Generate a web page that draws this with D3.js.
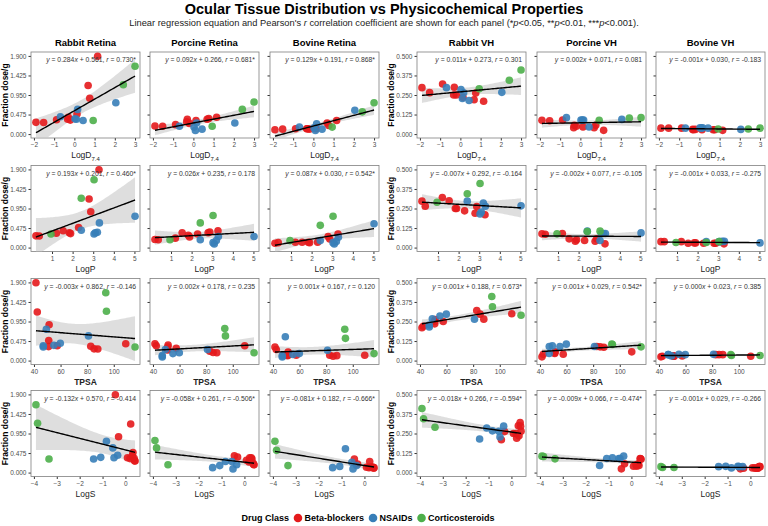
<!DOCTYPE html>
<html>
<head>
<meta charset="utf-8">
<script src="https://cdnjs.cloudflare.com/ajax/libs/d3/7.8.5/d3.min.js"></script>
<style>
  body { margin: 0; background: #fff; }
  text { font-family: "Liberation Sans", Arial, sans-serif; }
</style>
</head>
<body>
<div id="chart"></div>
<script>
// Drug order: 10 beta-blockers, 6 NSAIDs, 3 corticosteroids
var drugClass = ["Beta-blockers", "Beta-blockers", "Beta-blockers", "Beta-blockers", "Beta-blockers",
  "Beta-blockers", "Beta-blockers", "Beta-blockers", "Beta-blockers", "Beta-blockers",
  "NSAIDs", "NSAIDs", "NSAIDs", "NSAIDs", "NSAIDs", "NSAIDs",
  "Corticosteroids", "Corticosteroids", "Corticosteroids"];

// physicochemical properties
var logD = [1.15, 0.68, 0.76, 0.13, -0.30, -0.33, -0.88, -1.52, -0.20, -1.90, 2.05, 0.16, -0.69, 0.03, 0.10, 0.43, 3.00, 2.42, 0.93];
var logP = [3.28, 2.80, 2.88, 2.29, 1.54, 1.84, 1.21, 0.38, 1.90, 0.22, 5.03, 3.30, 2.42, 3.20, 3.10, 3.04, 3.04, 2.42, 0.95];
var tpsa = [41.5, 42.5, 51.4, 51.1, 109, 57.5, 82.7, 88, 51, 85.2, 49.3, 81, 59.8, 55, 47, 47, 94, 94.5, 116];
var logS = [-0.44, 0.23, -0.30, 0.33, 0.30, 0.09, 0.38, 0.42, 0.20, 0.40, -0.83, -0.55, -0.34, -1.08, -0.50, -1.39, -3.91, -3.84, -3.34];

// tissue levels (fraction dose/g)
var rabbitRetina = [1.89, 1.18, 0.87, 0.49, 0.41, 0.36, 0.35, 0.28, 0.34, 0.285, 0.76, 0.60, 0.42, 0.37, 0.36, 0.33, 1.65, 1.20, 0.33];
var porcineRetina = [0.41, 0.36, 0.38, 0.33, 0.36, 0.30, 0.23, 0.19, 0.26, 0.195, 0.27, 0.27, 0.19, 0.17, 0.09, 0.12, 0.78, 0.60, 0.19];
var bovineRetina = [0.33, 0.27, 0.21, 0.13, 0.13, 0.13, 0.13, 0.12, 0.12, 0.107, 0.58, 0.25, 0.17, 0.15, 0.09, 0.12, 0.76, 0.54, 0.17];
var rabbitVH = [0.21, 0.22, 0.262, 0.235, 0.30, 0.25, 0.32, 0.265, 0.25, 0.297, 0.267, 0.264, 0.297, 0.285, 0.228, 0.215, 0.41, 0.344, 0.29];
var porcineVH = [0.024, 0.041, 0.056, 0.045, 0.056, 0.041, 0.09, 0.085, 0.05, 0.088, 0.094, 0.09, 0.105, 0.09, 0.09, 0.045, 0.105, 0.103, 0.088];
var bovineVH = [0.024, 0.028, 0.028, 0.028, 0.028, 0.03, 0.038, 0.038, 0.03, 0.038, 0.03, 0.04, 0.038, 0.04, 0.038, 0.038, 0.038, 0.033, 0.033];

var tissueNames = ["Rabbit Retina", "Porcine Retina", "Bovine Retina", "Rabbit VH", "Porcine VH", "Bovine VH"];
var tissueData = [rabbitRetina, porcineRetina, bovineRetina, rabbitVH, porcineVH, bovineVH];
var propData = [logD, logP, tpsa, logS];
var propTicks = [[-2, -1, 0, 1, 2, 3], [1, 2, 3, 4, 5], [40, 60, 80, 100], [-4, -3, -2, -1, 0]];
var retinaTicks = [0, 0.475, 0.95, 1.425, 1.9];
var vhTicks = [0, 0.125, 0.25, 0.375, 0.5];

// regression labels as printed in each panel
var eqSlope = [["0.284", "0.092", "0.129", "0.011", "0.002", "-0.001"],
  ["0.193", "0.026", "0.087", "-0.007", "-0.002", "-0.001"],
  ["-0.003", "0.002", "0.001", "0.001", "0.001", "0.000"],
  ["-0.132", "-0.058", "-0.081", "-0.018", "-0.009", "-0.001"]];
var eqIntercept = [["0.561", "0.266", "0.191", "0.273", "0.071", "0.030"],
  ["0.201", "0.235", "0.030", "0.292", "0.077", "0.033"],
  ["0.862", "0.178", "0.167", "0.188", "0.029", "0.023"],
  ["0.570", "0.261", "0.182", "0.266", "0.066", "0.029"]];
var eqR = [["0.730*", "0.681*", "0.868*", "0.301", "0.081", "-0.183"],
  ["0.460*", "0.178", "0.542*", "-0.164", "-0.105", "-0.275"],
  ["-0.146", "0.235", "0.120", "0.673*", "0.542*", "0.385"],
  ["-0.414", "-0.506*", "-0.666*", "-0.594*", "-0.474*", "-0.266"]];

var classColor = d3.scaleOrdinal()
  .domain(["Beta-blockers", "NSAIDs", "Corticosteroids"])
  .range(["#E41A1C", "#377EB8", "#4DAF4A"]);

// layout
var svgWidth = 768;
var svgHeight = 526;
var colLeft = [31, 150, 270, 417, 537, 656];
var rowTop = [52, 165.5, 278.5, 390.5];
var panelW = 109;
var panelH = 86;

var svg = d3.select("#chart")
  .append("svg")
  .attr("width", svgWidth)
  .attr("height", svgHeight);

// title + subtitle
svg.append("text")
  .attr("x", 384)
  .attr("y", 14)
  .attr("text-anchor", "middle")
  .style("font-size", "14.5px")
  .style("font-weight", "bold")
  .text("Ocular Tissue Distribution vs Physicochemical Properties");

var sub = svg.append("text")
  .attr("x", 384)
  .attr("y", 25.5)
  .attr("text-anchor", "middle")
  .style("font-size", "9.3px")
  .attr("fill", "#222");
sub.append("tspan").text("Linear regression equation and Pearson's ");
sub.append("tspan").style("font-style", "italic").text("r");
sub.append("tspan").text(" correlation coefficient are shown for each panel (*");
sub.append("tspan").style("font-style", "italic").text("p");
sub.append("tspan").text("<0.05, **");
sub.append("tspan").style("font-style", "italic").text("p");
sub.append("tspan").text("<0.01, ***");
sub.append("tspan").style("font-style", "italic").text("p");
sub.append("tspan").text("<0.001).");

// simple least squares fit with 95% band
function fitLine(xs, ys) {
  var n = xs.length;
  var mx = d3.mean(xs), my = d3.mean(ys);
  var sxx = d3.sum(xs, d => (d - mx) * (d - mx));
  var sxy = d3.sum(xs.map((d, i) => (d - mx) * (ys[i] - my)));
  var b = sxy / sxx;
  var a = my - b * mx;
  var sse = d3.sum(xs.map((d, i) => Math.pow(ys[i] - (a + b * d), 2)));
  var s = Math.sqrt(sse / (n - 2));
  var t = 2.11;
  var lo = d3.min(xs), hi = d3.max(xs);
  var pts = d3.range(0, 61).map(function (k) {
    var x = lo + (hi - lo) * k / 60;
    var yhat = a + b * x;
    var se = s * Math.sqrt(1 / n + (x - mx) * (x - mx) / sxx);
    return { x: x, y: yhat, lo: yhat - t * se, hi: yhat + t * se };
  });
  return pts;
}

for (var r = 0; r < 4; r++) {
  for (var c = 0; c < 6; c++) {
    drawPanel(r, c);
  }
}

function drawPanel(r, c) {
  var xs = propData[r];
  var ys = tissueData[c];
  var isVH = c >= 3;

  var ext = d3.extent(xs);
  var pad = (ext[1] - ext[0]) * 0.05;
  var x = d3.scaleLinear().domain([ext[0] - pad, ext[1] + pad]).range([0, panelW]);
  var yMax = isVH ? 0.5 : 1.9;
  var y = d3.scaleLinear().domain([-0.05 * yMax, 1.05 * yMax]).range([panelH, 0]);

  var g = svg.append("g")
    .attr("transform", `translate(${colLeft[c]}, ${rowTop[r]})`);

  var clipId = "clip" + r + "_" + c;
  g.append("clipPath").attr("id", clipId)
    .append("rect").attr("width", panelW).attr("height", panelH);

  // axes
  var xAxis = g.append("g")
    .attr("transform", `translate(0, ${panelH})`)
    .call(d3.axisBottom(x).tickValues(propTicks[r]).tickSize(2.5).tickPadding(2).tickFormat(d3.format("d")));
  var yAxis = g.append("g")
    .call(d3.axisLeft(y).tickValues(isVH ? vhTicks : retinaTicks).tickSize(2.5).tickPadding(2)
      .tickFormat(c === 0 || c === 3 ? d3.format(".3f") : ""));
  [xAxis, yAxis].forEach(function (ax) {
    ax.select(".domain").remove();
    ax.selectAll("line").attr("stroke", "#333");
    ax.selectAll("text").style("font-size", "6.5px").attr("fill", "#4d4d4d")
      .style("font-family", "'Liberation Sans', Arial, sans-serif");
  });

  g.append("rect")
    .attr("width", panelW)
    .attr("height", panelH)
    .attr("fill", "none")
    .attr("stroke", "#7f7f7f")
    .attr("stroke-width", 0.8);

  // regression band + line
  var fit = fitLine(xs, ys);
  var plot = g.append("g").attr("clip-path", `url(#${clipId})`);
  plot.append("path")
    .datum(fit)
    .attr("fill", "#c8c8c8")
    .attr("fill-opacity", 0.6)
    .attr("d", d3.area().x(d => x(d.x)).y0(d => y(d.lo)).y1(d => y(d.hi)));

  plot.selectAll("circle")
    .data(xs.map((d, i) => ({ x: d, y: ys[i], cls: drugClass[i] })))
    .enter()
    .append("circle")
    .attr("cx", d => x(d.x))
    .attr("cy", d => y(d.y))
    .attr("r", 3.8)
    .attr("fill", d => classColor(d.cls))
    .attr("fill-opacity", 0.9);

  plot.append("path")
    .datum(fit)
    .attr("fill", "none")
    .attr("stroke", "#000")
    .attr("stroke-width", 1.4)
    .attr("d", d3.line().x(d => x(d.x)).y(d => y(d.y)));

  // equation label
  var eq = g.append("text")
    .attr("x", panelW - 4)
    .attr("y", 10)
    .attr("text-anchor", "end")
    .style("font-size", "6.8px")
    .attr("fill", "#333");
  eq.append("tspan").style("font-style", "italic").text("y");
  eq.append("tspan").text(" = " + eqSlope[r][c]);
  eq.append("tspan").style("font-style", "italic").text("x");
  eq.append("tspan").text(" + " + eqIntercept[r][c] + ", ");
  eq.append("tspan").style("font-style", "italic").text("r");
  eq.append("tspan").text(" = " + eqR[r][c]);

  // x axis title
  var xt = g.append("text")
    .attr("x", panelW / 2)
    .attr("y", panelH + 20)
    .attr("text-anchor", "middle")
    .style("font-size", "8.5px")
    .attr("fill", "#222");
  if (r === 0) {
    xt.append("tspan").text("LogD");
    xt.append("tspan").attr("dy", 2.5).style("font-size", "6px").text("7.4");
  } else if (r === 1) {
    xt.text("LogP");
  } else if (r === 2) {
    xt.style("font-weight", "bold").text("TPSA");
  } else {
    xt.text("LogS");
  }

  // panel titles on top row
  if (r === 0) {
    g.append("text")
      .attr("x", panelW / 2)
      .attr("y", -6.5)
      .attr("text-anchor", "middle")
      .style("font-size", "9.5px")
      .style("font-weight", "bold")
      .text(tissueNames[c]);
  }

  // y axis title
  if (c === 0 || c === 3) {
    g.append("text")
      .attr("transform", `translate(-23, ${panelH / 2}) rotate(-90)`)
      .attr("text-anchor", "middle")
      .style("font-size", "8.5px")
      .style("font-weight", "bold")
      .text("Fraction dose/g");
  }
}

// legend, laid out left to right then centred
var legend = svg.append("g");
var cursor = 0;
var legTitle = legend.append("text")
  .attr("x", 0)
  .attr("y", 3.2)
  .style("font-size", "9px")
  .style("font-weight", "bold")
  .text("Drug Class");
cursor += legTitle.node().getComputedTextLength() + 9;
classColor.domain().forEach(function (name) {
  legend.append("circle")
    .attr("cx", cursor)
    .attr("cy", 0)
    .attr("r", 4.3)
    .attr("fill", classColor(name));
  var t = legend.append("text")
    .attr("x", cursor + 6.5)
    .attr("y", 3.2)
    .style("font-size", "9px")
    .style("font-weight", "bold")
    .text(name);
  cursor += 6.5 + t.node().getComputedTextLength() + 9;
});
legend.attr("transform", `translate(${368 - (cursor - 9) / 2}, 518)`);
</script>
</body>
</html>
